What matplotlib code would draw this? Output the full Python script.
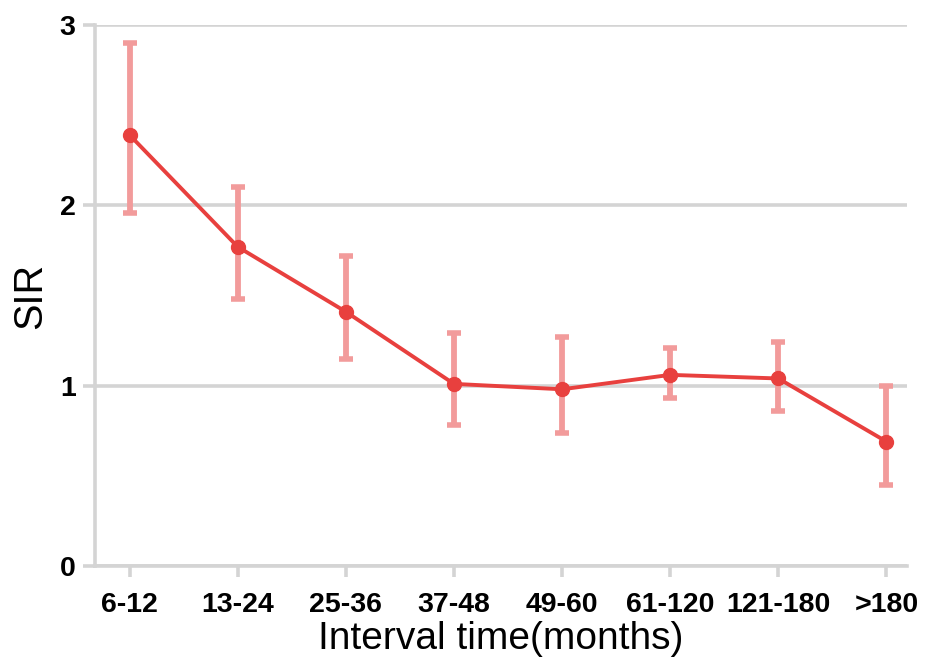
import matplotlib

matplotlib.use("Agg")
import matplotlib.pyplot as plt  # noqa: E402
import numpy as np  # noqa: E402

# SIR by interval time
intervals = ["6-12", "13-24", "25-36", "37-48", "49-60", "61-120", "121-180", ">180"]
sir = [2.39, 1.77, 1.41, 1.01, 0.98, 1.06, 1.04, 0.69]
ci_low = [1.96, 1.48, 1.15, 0.78, 0.74, 0.93, 0.86, 0.45]
ci_high = [2.90, 2.10, 1.72, 1.29, 1.27, 1.21, 1.24, 1.00]
y_ticks = [0, 1, 2, 3]

LINE_RED = "#e8403e"
ERR_RED = "#f29b9b"
GRID_GRAY = "#d4d4d4"

plt.rcParams["font.family"] = ["Liberation Sans", "DejaVu Sans"]

fig = plt.figure(figsize=(9.25, 6.72), dpi=100)
ax = fig.add_axes([0.1027, 0.1577, 0.8778, 0.8051])

x = np.arange(len(intervals))
sir_arr = np.array(sir)
yerr = np.vstack([sir_arr - np.array(ci_low), np.array(ci_high) - sir_arr])

ax.errorbar(x, sir_arr, yerr=yerr, fmt="none", ecolor=ERR_RED,
            elinewidth=4.2, capsize=5, capthick=4, zorder=2)
ax.plot(x, sir_arr, color=LINE_RED, linewidth=2.8, marker="o",
        markersize=10, zorder=3)

ax.set_xlim(-0.32, 7.19)
ax.set_ylim(0, 3)
ax.set_xticks(x)
ax.set_xticklabels(intervals, fontsize=20.5, fontweight="bold")
ax.set_yticks(y_ticks)
ax.set_yticklabels([str(v) for v in y_ticks], fontsize=20.5, fontweight="bold")

ax.yaxis.grid(True, color=GRID_GRAY, linewidth=2.6)
ax.set_axisbelow(True)

for side in ["top", "right"]:
    ax.spines[side].set_visible(False)
for side in ["left", "bottom"]:
    ax.spines[side].set_color(GRID_GRAY)
    ax.spines[side].set_linewidth(2.6)

ax.tick_params(axis="x", color=GRID_GRAY, width=2.6, length=8, pad=11)
ax.tick_params(axis="y", color=GRID_GRAY, width=2.6, length=9, pad=5)

ax.set_xlabel("Interval time(months)", fontsize=28)
ax.set_ylabel("SIR", fontsize=28.5)
ax.xaxis.set_label_coords(0.5, -0.102)
ax.yaxis.set_label_coords(-0.056, 0.5)

fig.savefig("out.png", dpi=100)
plt.close(fig)
